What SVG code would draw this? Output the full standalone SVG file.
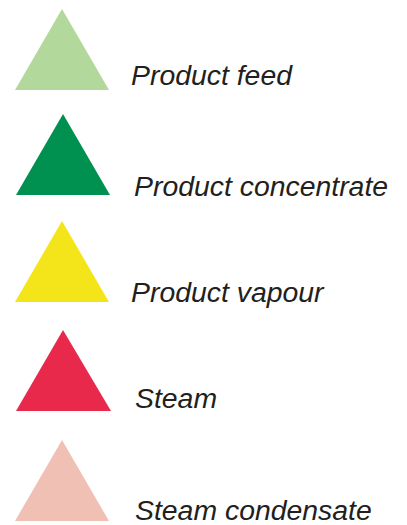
<svg xmlns="http://www.w3.org/2000/svg" width="407" height="525" viewBox="0 0 407 525">
<style>
.lbl{font-family:"Liberation Sans",Arial,sans-serif;font-style:italic;font-size:28.4px;fill:#231f20}
</style>
<rect width="407" height="525" fill="#fff"/>
<g id="product-feed">
<polygon points="62,9 15,90 109,90" fill="#b3d89b"/>
<text class="lbl" x="131" y="85">Product feed</text>
</g>
<g id="product-concentrate">
<polygon points="63,114 16,195 110,195" fill="#009150"/>
<text class="lbl" x="134" y="196">Product concentrate</text>
</g>
<g id="product-vapour">
<polygon points="62,221 15,302 109,302" fill="#f4e51b"/>
<text class="lbl" x="131" y="302">Product vapour</text>
</g>
<g id="steam">
<polygon points="63,330 16,411 111,411" fill="#e8294c"/>
<text class="lbl" x="135" y="408">Steam</text>
</g>
<g id="steam-condensate">
<polygon points="62,440 15,521 109,521" fill="#f0c0b4"/>
<text class="lbl" x="135" y="520">Steam condensate</text>
</g>
</svg>
